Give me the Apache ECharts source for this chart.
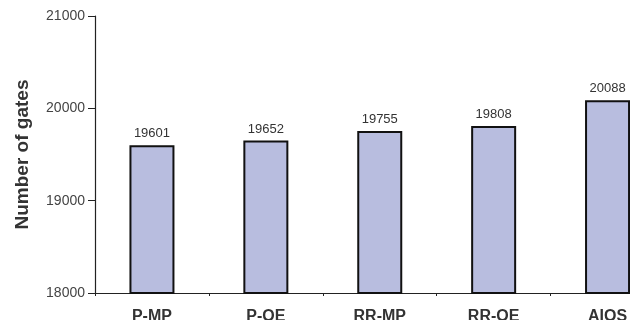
<!DOCTYPE html>
<html><head><meta charset="utf-8">
<script src="https://cdn.jsdelivr.net/npm/echarts@6/dist/echarts.min.js"></script>
<style>html,body{margin:0;padding:0;background:#fff}#c{width:638px;height:320px}</style>
</head><body><div id="c"></div>
<script>
const categories = ['P-MP', 'P-OE', 'RR-MP', 'RR-OE', 'AIOS'];
const gates = [19601, 19652, 19755, 19808, 20088];
const yTicks = [18000, 19000, 20000, 21000];

const chart = echarts.init(document.getElementById('c'), null, {renderer: 'canvas'});
chart.setOption({
  animation: false,
  backgroundColor: '#fff',
  textStyle: {fontFamily: 'Liberation Sans, Arial, sans-serif'},
  grid: {left: 95, top: 16, width: 569.5, height: 277, outerBoundsMode: 'none'},
  xAxis: {
    type: 'category', data: categories, boundaryGap: true,
    axisLine: {lineStyle: {color: '#222', width: 1.2}},
    axisTick: {show: true, length: 3, inside: false, lineStyle: {color: '#222'}},
    axisLabel: {color: '#333', fontSize: 16, fontWeight: 'bold', margin: 16}
  },
  yAxis: {
    type: 'value', min: yTicks[0], max: yTicks[yTicks.length - 1], interval: 1000,
    name: 'Number of gates', nameLocation: 'middle', nameGap: 63, nameRotate: 90,
    nameTextStyle: {fontSize: 19, fontWeight: 'bold', color: '#333'},
    axisLine: {show: true, lineStyle: {color: '#222', width: 1.2}},
    axisTick: {show: true, length: 7, lineStyle: {color: '#222'}},
    splitLine: {show: false},
    axisLabel: {color: '#444', fontSize: 14, margin: 10, formatter: v => String(v)}
  },
  series: [{
    type: 'bar', data: gates, barWidth: 45,
    itemStyle: {color: '#b8bddf', borderColor: '#111', borderWidth: 2},
    label: {show: true, position: 'top', distance: 5, color: '#333', fontSize: 13}
  }],
  graphic: [{type: 'rect', shape: {x: 630, y: 0, width: 8, height: 320}, style: {fill: '#fff'}, z: 100}]
});
</script></body></html>
